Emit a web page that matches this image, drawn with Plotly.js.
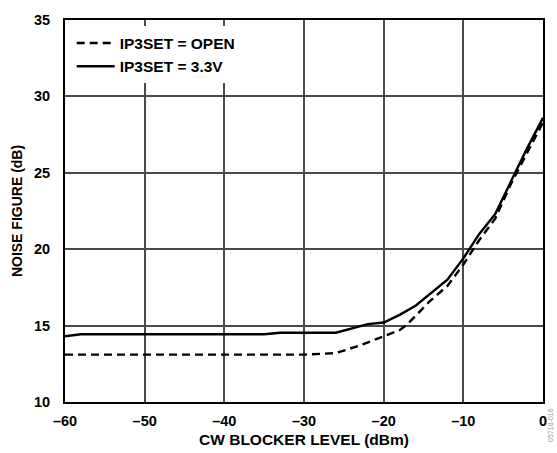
<!DOCTYPE html>
<html><head><meta charset="utf-8">
<script src="https://cdn.plot.ly/plotly-3.0.1.min.js"></script>
<style>html,body{margin:0;padding:0;background:#fff}#c{width:557px;height:453px}</style>
</head><body><div id="c"></div>
<script>
const xOpen = [-60, -50, -40, -30, -26, -23, -20.5, -18, -17, -14.2, -12, -10, -8, -6, -4, -2, 0];
const yOpen = [13.1, 13.1, 13.1, 13.1, 13.2, 13.7, 14.2, 14.7, 15.1, 16.6, 17.6, 19.0, 20.6, 22.0, 24.3, 26.3, 28.3];
const xSolid = [-60, -58, -50, -40, -35, -33, -26, -22, -20, -18, -16, -12, -10, -8, -6, -3.5, -2, 0];
const ySolid = [14.3, 14.43, 14.43, 14.43, 14.43, 14.53, 14.53, 15.1, 15.2, 15.7, 16.3, 18.0, 19.4, 21.0, 22.3, 25.0, 26.6, 28.6];
const xTicks = [-60, -50, -40, -30, -20, -10, 0];
const xTickText = ['\u201360', '\u201350', '\u201340', '\u201330', '\u201320', '\u201310', '0'];
const yTicks = [10, 15, 20, 25, 30, 35];
const names = ['IP3SET = OPEN', 'IP3SET = 3.3V'];

const F = 'Liberation Sans, Arial, sans-serif';
const traces = [
  {x: xOpen, y: yOpen, name: names[0], mode: 'lines', line: {color: '#000', width: 2.4, dash: '8px,5px'}},
  {x: xSolid, y: ySolid, name: names[1], mode: 'lines', line: {color: '#000', width: 2.4}}
];
const layout = {
  width: 557, height: 453,
  margin: {l: 65, r: 14, t: 20, b: 51},
  paper_bgcolor: '#fff', plot_bgcolor: '#fff',
  showlegend: true,
  legend: {x: 0.014, y: 0.983, xanchor: 'left', yanchor: 'top', bgcolor: '#fff',
    font: {family: F, size: 15.5, color: '#000', weight: 'bold'}, itemwidth: 38, tracegroupgap: 0},
  xaxis: {range: [-60, 0], tickvals: xTicks, ticktext: xTickText, showgrid: true, gridcolor: '#4a4a4a', gridwidth: 2,
    zeroline: false, showline: true, linecolor: '#000', linewidth: 2, mirror: true, ticks: '',
    ticklabelstandoff: 5,
    tickfont: {family: F, size: 14.5, color: '#000', weight: 'bold'},
    title: {text: 'CW BLOCKER LEVEL (dBm)', font: {family: F, size: 15.5, color: '#000', weight: 'bold'}, standoff: 6}},
  yaxis: {range: [10, 35], tickvals: yTicks, showgrid: true, gridcolor: '#4a4a4a', gridwidth: 2,
    zeroline: false, showline: true, linecolor: '#000', linewidth: 2, mirror: true, ticks: '',
    ticklabelstandoff: 10,
    tickfont: {family: F, size: 14.5, color: '#000', weight: 'bold'},
    title: {text: 'NOISE FIGURE (dB)', font: {family: F, size: 14, color: '#000', weight: 'bold'}, standoff: 8}},
  annotations: [{xref: 'paper', yref: 'paper', x: 1.0167, y: -0.06, xanchor: 'center', yanchor: 'middle', showarrow: false,
    text: '05718-016', textangle: -90, font: {family: F, size: 7, color: '#999'}}]
};
Plotly.newPlot('c', traces, layout, {displayModeBar: false, staticPlot: true});
</script></body></html>
